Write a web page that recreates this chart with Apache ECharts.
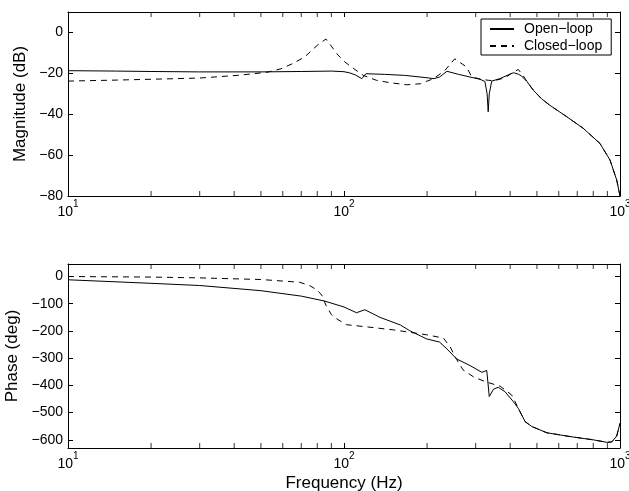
<!DOCTYPE html>
<html>
<head>
<meta charset="utf-8">
<script src="https://cdn.jsdelivr.net/npm/echarts@6/dist/echarts.min.js"></script>
<style>
  html, body { margin: 0; padding: 0; background: #fff; }
  #container { width: 629px; height: 491px; }
</style>
</head>
<body>
<div id="container"></div>
<script>
// magnitude (dB) vs frequency (Hz)
var openMagHz = [10, 15, 20, 30, 50, 70, 90, 100, 105, 110, 116, 120, 140, 166, 195, 212, 222, 236, 260, 286, 311, 324, 330, 333, 336, 343, 367, 390, 411, 428, 440, 460, 485, 520, 558, 641, 736, 846, 920, 973, 1000];
var openMagDb = [-18.7, -18.9, -19.1, -19.3, -19.3, -19.1, -18.9, -19.2, -19.8, -20.8, -22.6, -20.2, -20.5, -21.0, -22.0, -22.6, -21.8, -19.0, -20.5, -21.8, -22.9, -24.0, -30.0, -38.8, -30.0, -23.8, -22.6, -21.0, -19.7, -20.4, -21.3, -24.0, -28.2, -32.5, -35.7, -41.2, -46.9, -54.3, -62.4, -72.2, -80];
var closedMagHz = [10, 15, 20, 30, 41, 47, 53, 59, 65, 72, 80, 86, 91.5, 95, 100.8, 108, 117.5, 131, 147, 169, 189, 211, 232, 252, 278, 290, 311, 333, 350, 383, 411, 428, 445, 460, 485, 520, 558, 641, 736, 846, 920, 973, 1000];
var closedMagDb = [-23.8, -23.3, -22.9, -22.3, -21.0, -20.2, -19.4, -17.8, -15.3, -12.0, -6.3, -3.2, -8.0, -11.0, -14.5, -17.5, -21.0, -23.4, -24.6, -25.6, -25.1, -22.6, -18.6, -12.9, -16.9, -21.7, -22.8, -23.4, -23.6, -22.2, -19.4, -18.1, -21.0, -24.0, -28.2, -32.5, -35.7, -41.2, -46.9, -54.3, -62.4, -72.2, -80];

// phase (deg) vs frequency (Hz)
var openPhaseHz = [10, 20, 30, 50, 70, 85, 100, 111, 119, 135, 160, 173, 199, 222, 236, 256, 286, 316, 329, 336, 348, 362, 383, 411, 428, 453, 479, 543, 659, 800, 895, 933, 973, 1000];
var openPhaseDeg = [-12, -25, -33, -52, -72, -90, -112, -133, -122, -150, -178, -199, -229, -241, -266, -303, -327, -352, -345, -441, -414, -407, -423, -460, -484, -533, -551, -574, -588, -600, -609, -608, -586, -539];
var closedPhaseHz = [10, 20, 30, 50, 69, 75, 80, 83, 86, 90, 94, 102, 121, 151, 199, 229, 242, 256, 270, 296, 329, 368, 405, 417, 428, 453, 479, 543, 659, 800, 895, 933, 973, 1000];
var closedPhaseDeg = [0, -2, -5, -11, -21, -33, -50, -68, -105, -140, -155, -177, -185, -196, -214, -226, -257, -305, -343, -370, -388, -403, -435, -460, -484, -533, -551, -574, -588, -600, -609, -608, -586, -539];

var seriesNames = ['Open\u2212loop', 'Closed\u2212loop'];
var minorHz = [20, 30, 40, 50, 60, 70, 80, 90, 200, 300, 400, 500, 600, 700, 800, 900];
var magRange = [-80, 10];
var phaseRange = [-630, 46];

function pairs(xs, ys) {
    return xs.map(function (x, i) { return [x, ys[i]]; });
}

var font = 'Liberation Sans, Arial, Helvetica, sans-serif';
var black = '#000';

function xAxisDef(gridIndex, top, showLabels) {
    return {
        type: 'log',
        logBase: 10,
        min: 10,
        max: 1000,
        gridIndex: gridIndex,
        position: top ? 'top' : 'bottom',
        axisLine: { show: true, onZero: false, lineStyle: { color: black, width: 1 } },
        axisTick: { show: true, inside: true, length: 5, lineStyle: { color: black } },
        splitLine: { show: false },
        axisLabel: {
            show: showLabels,
            margin: 3,
            color: black,
            fontFamily: font,
            formatter: function (v) {
                var e = Math.round(Math.log10(v));
                return '{b|10}{e|' + e + '}';
            },
            rich: {
                b: { fontSize: 14, fontFamily: font, color: black, verticalAlign: 'bottom', lineHeight: 20 },
                e: { fontSize: 10, fontFamily: font, color: black, verticalAlign: 'top', lineHeight: 20 }
            }
        }
    };
}

function yAxisDef(gridIndex, right, range, interval, step, name, nameGap) {
    return {
        type: 'value',
        gridIndex: gridIndex,
        position: right ? 'right' : 'left',
        min: range[0],
        max: range[1],
        interval: interval,
        name: right ? '' : name,
        nameLocation: 'middle',
        nameGap: nameGap,
        nameTextStyle: { fontSize: 17, fontFamily: font, color: black },
        axisLine: { show: true, onZero: false, lineStyle: { color: black, width: 1 } },
        axisTick: { show: true, inside: true, length: 5, lineStyle: { color: black } },
        splitLine: { show: false },
        axisLabel: {
            show: !right,
            margin: 5,
            fontSize: 14,
            fontFamily: font,
            color: black,
            formatter: function (v) {
                if (Math.round(v) % step !== 0) return '';
                return String(Math.round(v)).replace('-', '\u2212');
            }
        }
    };
}

// minor log ticks, drawn as short marks on the top and bottom frame lines
function minorTickSeries(xIdx, yIdx, yVal, offset) {
    return {
        type: 'scatter',
        xAxisIndex: xIdx,
        yAxisIndex: yIdx,
        data: minorHz.map(function (f) { return [f, yVal]; }),
        symbol: 'rect',
        symbolSize: [1, 5],
        symbolOffset: [0, offset],
        itemStyle: { color: black },
        silent: true,
        clip: false,
        z: 1
    };
}

var dom = document.getElementById('container');
var myChart = echarts.init(dom, null, { renderer: 'canvas' });

var solid = { color: black, width: 1, type: 'solid' };
var dashed = { color: black, width: 1, type: [6, 5] };

var option = {
    animation: false,
    backgroundColor: '#fff',
    grid: [
        { left: 68, top: 12, width: 552, height: 184, outerBoundsMode: 'none', containLabel: false },
        { left: 68, top: 264, width: 552, height: 184, outerBoundsMode: 'none', containLabel: false }
    ],
    xAxis: [
        xAxisDef(0, false, true),
        xAxisDef(0, true, false),
        Object.assign(xAxisDef(1, false, true), {
            name: 'Frequency (Hz)',
            nameLocation: 'middle',
            nameGap: 27,
            nameTextStyle: { fontSize: 17, fontFamily: font, color: black }
        }),
        xAxisDef(1, true, false)
    ],
    yAxis: [
        yAxisDef(0, false, magRange, 20, 20, 'Magnitude (dB)', 31),
        yAxisDef(0, true, magRange, 20, 20, '', 0),
        yAxisDef(1, false, phaseRange, null, 100, 'Phase (deg)', 39),
        yAxisDef(1, true, phaseRange, null, 100, '', 0)
    ],
    legend: {
        orient: 'vertical',
        left: 481,
        top: 19,
        data: seriesNames,
        backgroundColor: '#fff',
        borderColor: black,
        borderWidth: 1,
        borderRadius: 0,
        padding: [3, 9, 2, 8],
        itemWidth: 24,
        itemHeight: 14,
        itemGap: 3,
        itemStyle: { opacity: 0 },
        textStyle: { fontSize: 14, fontFamily: font, color: black, lineHeight: 14, padding: [0, 0, 0, 5] }
    },
    series: [
        { name: seriesNames[0], type: 'line', xAxisIndex: 0, yAxisIndex: 0, data: pairs(openMagHz, openMagDb), symbol: 'none', showSymbol: false, lineStyle: solid, itemStyle: { color: black } },
        { name: seriesNames[1], type: 'line', xAxisIndex: 0, yAxisIndex: 0, data: pairs(closedMagHz, closedMagDb), symbol: 'none', showSymbol: false, lineStyle: dashed, itemStyle: { color: black } },
        { name: seriesNames[0], type: 'line', xAxisIndex: 2, yAxisIndex: 2, data: pairs(openPhaseHz, openPhaseDeg), symbol: 'none', showSymbol: false, lineStyle: solid, itemStyle: { color: black } },
        { name: seriesNames[1], type: 'line', xAxisIndex: 2, yAxisIndex: 2, data: pairs(closedPhaseHz, closedPhaseDeg), symbol: 'none', showSymbol: false, lineStyle: dashed, itemStyle: { color: black } },
        minorTickSeries(0, 0, magRange[1], 2.5),
        minorTickSeries(0, 0, magRange[0], -2.5),
        minorTickSeries(2, 2, phaseRange[1], 2.5),
        minorTickSeries(2, 2, phaseRange[0], -2.5)
    ]
};

myChart.setOption(option);
window.addEventListener('resize', myChart.resize);
</script>
</body>
</html>
